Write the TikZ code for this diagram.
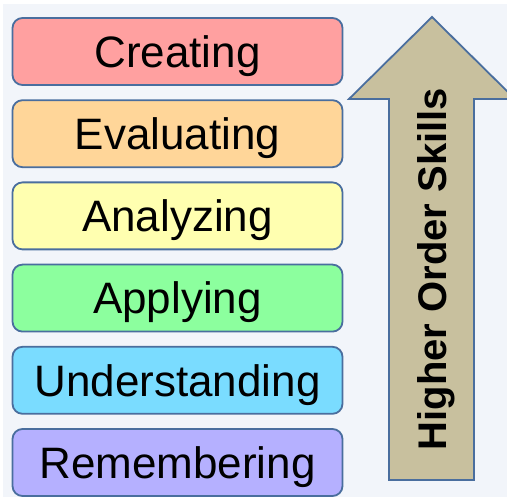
\documentclass[tikz,border=0pt]{standalone}
\usepackage{fontspec}
\setmainfont{Liberation Sans}
\definecolor{bg}{HTML}{F2F5FA}
\definecolor{edge}{HTML}{4A6E9E}
\definecolor{cCre}{HTML}{FFA0A0}
\definecolor{cEva}{HTML}{FFD699}
\definecolor{cAna}{HTML}{FFFFB0}
\definecolor{cApp}{HTML}{8CFF9E}
\definecolor{cUnd}{HTML}{7ADCFF}
\definecolor{cRem}{HTML}{B5B0FF}
\definecolor{arr}{HTML}{C8C09E}
\begin{document}
\begin{tikzpicture}[x=1pt,y=-1pt,
  levelbox/.style={draw=edge, line width=1.8pt, rounded corners=10pt,
    minimum width=330pt, minimum height=67pt, inner sep=0pt},
  leveltext/.style={font=\fontsize{44}{50}\selectfont, text height=31.5pt, text depth=0pt, inner sep=0pt}]
\useasboundingbox (0,0) rectangle (507,497);
\fill[bg] (3,4) rectangle (507,497);
\begin{scope}
\clip (0,0) rectangle (507,497);
\draw[edge, line width=1.8pt, fill=arr, line join=miter]
  (389,480) -- (389,99) -- (349,99) -- (432,17) -- (515,99) -- (474,99) -- (474,480) -- cycle;
\end{scope}
\node[rotate=90, font=\fontsize{40}{46}\selectfont\bfseries, text height=28.6pt, text depth=0pt, inner sep=0pt] (hos) at (432.5,269) {Higher Order Skills};
\foreach \name/\col/\txt [count=\i from 0] in {cre/cCre/Creating, eva/cEva/Evaluating, ana/cAna/Analyzing, app/cApp/Applying, und/cUnd/Understanding, rem/cRem/Remembering}{
  \node[levelbox, fill=\col] (\name) at (177.5, 51.5+82.2*\i) {};
  \node[leveltext] (\name t) at (\name) {\txt};
}
\end{tikzpicture}
\end{document}
